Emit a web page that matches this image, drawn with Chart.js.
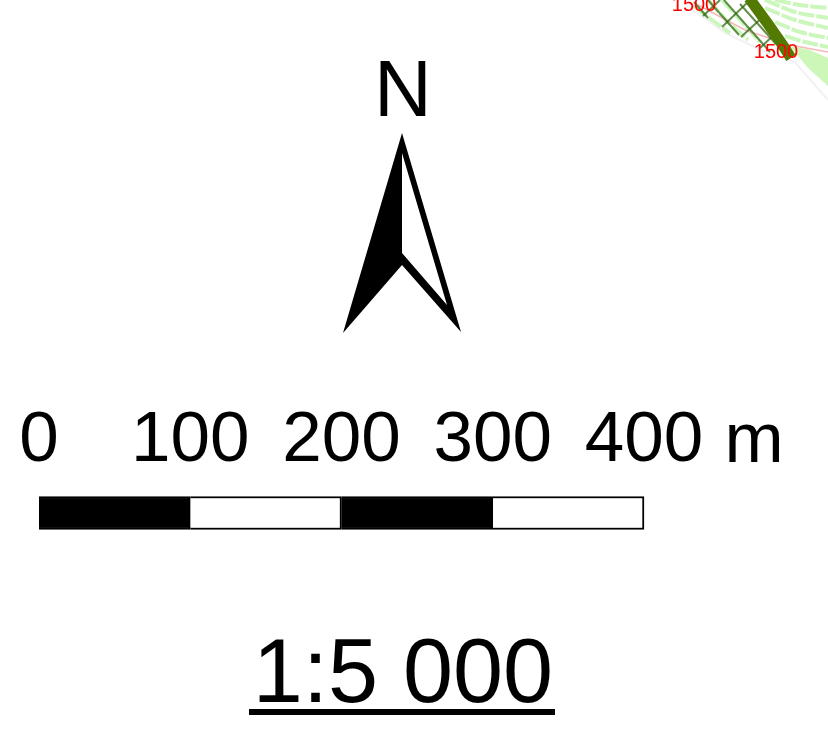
<!DOCTYPE html>
<html><head><meta charset="utf-8">
<style>html,body{margin:0;padding:0;background:#fff}canvas{display:block}</style>
<script src="https://cdn.jsdelivr.net/npm/chart.js@4"></script>
</head><body><canvas id="c" width="828" height="756" style="width:828px;height:756px"></canvas>
<script>
// scale bar (metres)
const scaleTicks = [0,100,200,300,400];
const scaleFills = ['#000000','#ffffff','#000000','#ffffff'];
const scaleUnit = 'm';
const northLabel = 'N';
const ratioLabel = '1:5 000';
const contourLabel = '1500';
// north arrow outline, sheet units
const arrowOuter = [[402,133],[343,333],[402,265],[461,332]];
const arrowInner = [[402,153],[402,253],[447,305]];
const underline = [[249,712],[555,712]];
// map fragment, sheet units
const mapEdge = [[690,8],[725,33],[765,52],[795,62],[828,100]];
const mapRiver = [[749,-2],[768,24],[782,44],[791,58]];
const mapContour = [[698,5],[745,30],[790,45],[828,52]];
const mapWedge = [[790,46],[810,50],[828,58],[828,86],[808,68]];
const mapLight = [
 [[775,0],[800,5],[828,8]],[[765,0],[795,12],[828,18]],[[765,8],[795,20],[828,28]],[[775,22],[800,32],[828,38]],
 [[785,36],[805,42],[828,47]],
 [[708,0],[730,24],[748,40]],[[722,0],[742,22],[760,42]],[[694,6],[712,20],[730,33]]
];
const mapHatchA = [[[694,2],[708,18]],[[708,0],[739,35]],[[724,0],[770,52]],[[740,4],[776,44]]];
const mapHatchB = [[[703,16],[720,0]],[[722,27],[750,0]],[[741,37],[766,14]],[[760,48],[777,32]]];

const pts = a => a.map(p => ({x:p[0],y:p[1]}));
const line = (a,color,width,extra) => Object.assign({type:'line',data:pts(a),xAxisID:'x',yAxisID:'y',
  borderColor:color,borderWidth:width,pointRadius:0,tension:0,fill:false,order:5},extra||{});
const datasets = [];
datasets.push(line(mapEdge,'rgba(210,210,220,0.3)',2,{order:10}));
datasets.push(line(mapWedge,'rgba(0,0,0,0)',0,{fill:'shape',backgroundColor:'rgba(192,245,168,0.8)',order:9}));
mapLight.forEach(a=>datasets.push(line(a,'#ccf7bc',4,{order:8,tension:0.3,borderDash:[16,2]})));
datasets.push(line(mapContour,'#f5b8b8',1.5,{order:7}));
mapHatchA.concat(mapHatchB).forEach(h=>datasets.push(line(h,'rgba(50,105,20,0.75)',2,{order:6})));
datasets.push(line(mapRiver,'#527a00',11,{order:5}));
datasets.push(line(arrowOuter,'rgba(0,0,0,0)',0,{fill:'shape',backgroundColor:'#000',order:4}));
datasets.push(line(arrowInner,'rgba(0,0,0,0)',0,{fill:'shape',backgroundColor:'#fff',order:3}));
datasets.push(line(underline,'#000',6,{order:3}));
scaleFills.forEach((f,i)=>datasets.push({type:'bar',indexAxis:'y',xAxisID:'xm',yAxisID:'y',
  data:[{x:[scaleTicks[i],scaleTicks[i+1]],y:513}],backgroundColor:f,borderColor:'#000',borderWidth:2,
  barThickness:33,grouped:false,order:2}));

const textPlugin = {id:'texts',afterDatasetsDraw(ch){
  const c=ch.ctx,x=ch.scales.x,y=ch.scales.y;
  c.save();c.textAlign='center';c.textBaseline='alphabetic';
  c.fillStyle='#000';
  c.font='80px "Liberation Sans"';c.fillText(northLabel,x.getPixelForValue(403),y.getPixelForValue(116));
  c.font='90px "Liberation Sans"';c.fillText(ratioLabel,x.getPixelForValue(403),y.getPixelForValue(702));
  c.font='71px "Liberation Sans"';c.fillText(scaleUnit,x.getPixelForValue(754),y.getPixelForValue(462));
  c.fillStyle='#ff0000';c.font='20px "Liberation Sans"';
  c.fillText(contourLabel,x.getPixelForValue(694),y.getPixelForValue(11));
  c.fillText(contourLabel,x.getPixelForValue(776),y.getPixelForValue(58));
  c.restore();
}};

new Chart(document.getElementById('c'),{
  data:{datasets},
  options:{responsive:false,animation:false,
    layout:{padding:0},
    plugins:{legend:{display:false},tooltip:{enabled:false},title:{display:false}},
    scales:{
      x:{type:'linear',min:0,max:828,display:false,offset:false},
      y:{type:'linear',min:0,max:756,reverse:true,display:false,offset:false},
      xm:{type:'linear',min:-39/1.5125,max:(828-39)/1.5125,display:true,offset:false,position:{y:399},
        afterBuildTicks(s){s.ticks=scaleTicks.map(v=>({value:v}));},
        afterFit(s){s.height=0;},
        grid:{display:false,drawTicks:false},border:{display:false},
        ticks:{autoSkip:false,maxRotation:0,padding:0,color:'#000',font:{family:'Liberation Sans',size:71},callback:v=>String(v)}}
    }
  },
  plugins:[textPlugin]
});
</script></body></html>
